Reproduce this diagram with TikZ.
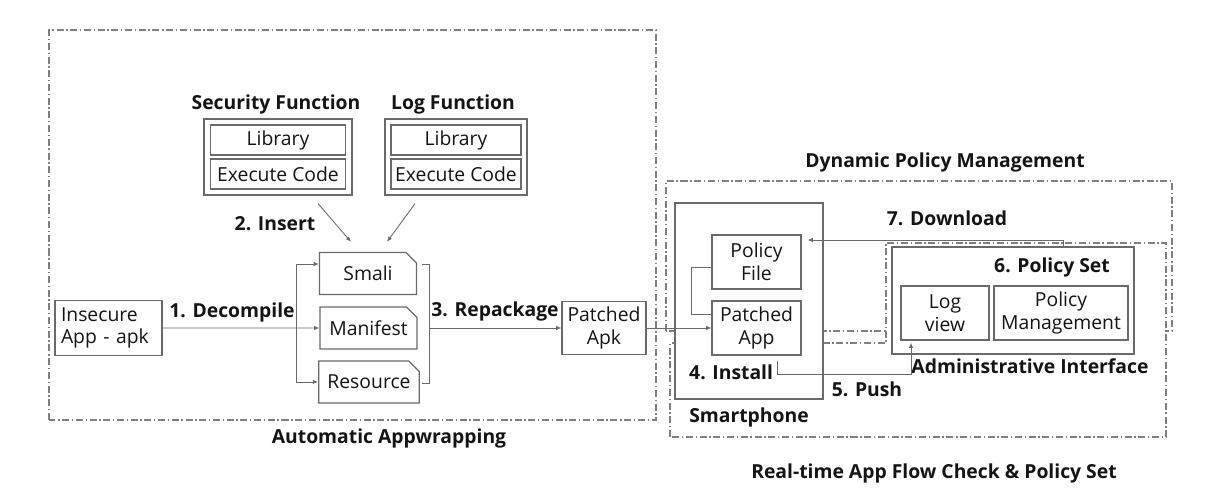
\documentclass[tikz,border=0pt]{standalone}
\usepackage{fontspec}
\setmainfont{Open Sans}
\usetikzlibrary{shapes.misc,arrows.meta,positioning,calc}
\definecolor{linegray}{HTML}{6A6A6A}
\definecolor{framegray}{HTML}{808080}
\definecolor{darktext}{HTML}{141414}

\tikzset{
  box/.style={draw=linegray, line width=0.7pt, fill=white, align=center, inner sep=2pt,
    text=darktext, font=\fontsize{11}{13}\selectfont},
  doc/.style={box, chamfered rectangle, chamfered rectangle corners=north east,
    chamfered rectangle xsep=3pt, chamfered rectangle ysep=3pt},
  frame/.style={draw=framegray, line width=0.6pt, dash pattern=on 4pt off 1.5pt on 0.8pt off 1.5pt},
  conn/.style={draw=linegray, line width=0.5pt},
  arr/.style={conn, -{Latex[length=3pt,width=2.5pt]}},
  lbl/.style={font=\fontsize{11}{13}\selectfont\bfseries, text=darktext}
}

\begin{document}
\begin{tikzpicture}
\useasboundingbox (0,0) rectangle (24.48,9.82);

% Automatic Appwrapping
\draw[frame] (0.98,1.42) rectangle (13.12,9.22);
\node[lbl] (autolbl) at (7.78,1.06) {Automatic Appwrapping};

\node[box, minimum width=2.96cm, minimum height=1.52cm] (secbox) at (5.56,6.68) {};
\node[box, minimum width=2.70cm, minimum height=0.6cm] (seclib) at (5.56,7.02) {Library};
\node[box, minimum width=2.70cm, minimum height=0.6cm] (secexe) at (5.56,6.34) {Execute Code};
\node[lbl] (seclbl) at (5.52,7.74) {Security Function};

\node[box, minimum width=2.84cm, minimum height=1.52cm] (logbox) at (9.12,6.68) {};
\node[box, minimum width=2.60cm, minimum height=0.6cm] (loglib) at (9.12,7.02) {Library};
\node[box, minimum width=2.60cm, minimum height=0.6cm] (logexe) at (9.12,6.34) {Execute Code};
\node[lbl] (loglbl) at (9.06,7.74) {Log Function};

\node[doc, minimum width=1.94cm, minimum height=0.84cm] (smali) at (7.36,4.35) {Smali};
\node[doc, minimum width=1.94cm, minimum height=0.84cm] (manifest) at (7.37,3.26) {Manifest};
\node[doc, minimum width=1.94cm, minimum height=0.84cm] (resource) at (7.38,2.18) {Resource};

\node[box, minimum width=2.14cm, minimum height=1.10cm, align=left, text width=1.9cm] (insecure) at (2.17,3.26) {Insecure\\App - apk};
\node[box, minimum width=1.68cm, minimum height=1.06cm] (papk) at (12.08,3.26) {Patched\\Apk};

\draw[arr] ([xshift=0.8cm,yshift=-0.16cm]secbox.south) -- ([xshift=-0.34cm,yshift=0.2cm]smali.north);
\draw[arr] ([xshift=-0.82cm,yshift=-0.16cm]logbox.south) -- ([xshift=0.38cm,yshift=0.2cm]smali.north);
\node[lbl] (insertlbl) at (5.50,5.34) {2. Insert};

\coordinate (fork) at (5.92,3.26);
\draw[arr] (insecure) -- (manifest);
\draw[arr] (fork) |- ([yshift=0.19cm]smali.west);
\draw[arr] (fork) |- (resource.west);
\node[lbl] (decomplbl) at (4.64,3.58) {1. Decompile};

\draw[conn] (8.44,4.54) -| (8.58,2.16) -- (8.44,2.16);
\coordinate (bracket) at (8.58,3.26);
\draw[arr] (bracket) -- (papk);
\node[lbl] (repacklbl) at (9.90,3.60) {3. Repackage};

% Dynamic Policy Management / Real-time check
\draw[frame] (13.32,3.20) rectangle (23.44,6.20);
\node[lbl] (dynlbl) at (18.90,6.58) {Dynamic Policy Management};
\draw[frame, fill=white] (13.40,1.08) -- (13.40,2.96) -- (17.72,2.96) -- (17.72,4.96)
  -- (23.32,4.96) -- (23.32,1.08) -- cycle;
\node[lbl] (rtlbl) at (18.68,0.36) {Real-time App Flow Check \& Policy Set};

\node[box, minimum width=2.96cm, minimum height=3.92cm] (phone) at (14.98,3.80) {};
\node[lbl] (phonelbl) at (14.98,1.48) {Smartphone};
\node[box, minimum width=1.78cm, minimum height=1.08cm] (pfile) at (15.13,4.58) {Policy\\File};
\node[box, minimum width=1.78cm, minimum height=1.08cm] (papp) at (15.13,3.26) {Patched\\App};
\node[lbl, anchor=west] (installlbl) at (13.66,2.38) {4. Install};
\draw[conn] ([yshift=-0.1cm]pfile.west) -- ++(-0.4,0) |- ([yshift=0.28cm]papp.west);
\draw[arr] (papk) -- (papp);

\node[box, minimum width=4.84cm, minimum height=2.14cm] (admin) at (20.26,3.81) {};
\node[box, minimum width=1.76cm, minimum height=1.08cm] (logview) at (18.90,3.56) {Log\\view};
\node[box, minimum width=2.68cm, minimum height=1.08cm] (polman) at (21.22,3.56) {Policy\\Management};
\node[lbl] (setlbl) at (21.04,4.48) {6. Policy Set};
\node[lbl] (adminlbl) at (20.60,2.50) {Administrative Interface};

\draw[arr] ([xshift=0.41cm,yshift=-0.1cm]papp.south) |- ([xshift=-0.68cm,yshift=-0.68cm]logview.south)
  -- ([xshift=-0.68cm,yshift=-0.04cm]logview.south);
\node[lbl] (pushlbl) at (17.34,2.04) {5. Push};

\draw[arr] ([xshift=1.0cm]admin.north) |- ([xshift=0.12cm,yshift=0.44cm]pfile.east);
\node[lbl] (downlbl) at (18.94,5.46) {7. Download};
\end{tikzpicture}
\end{document}
